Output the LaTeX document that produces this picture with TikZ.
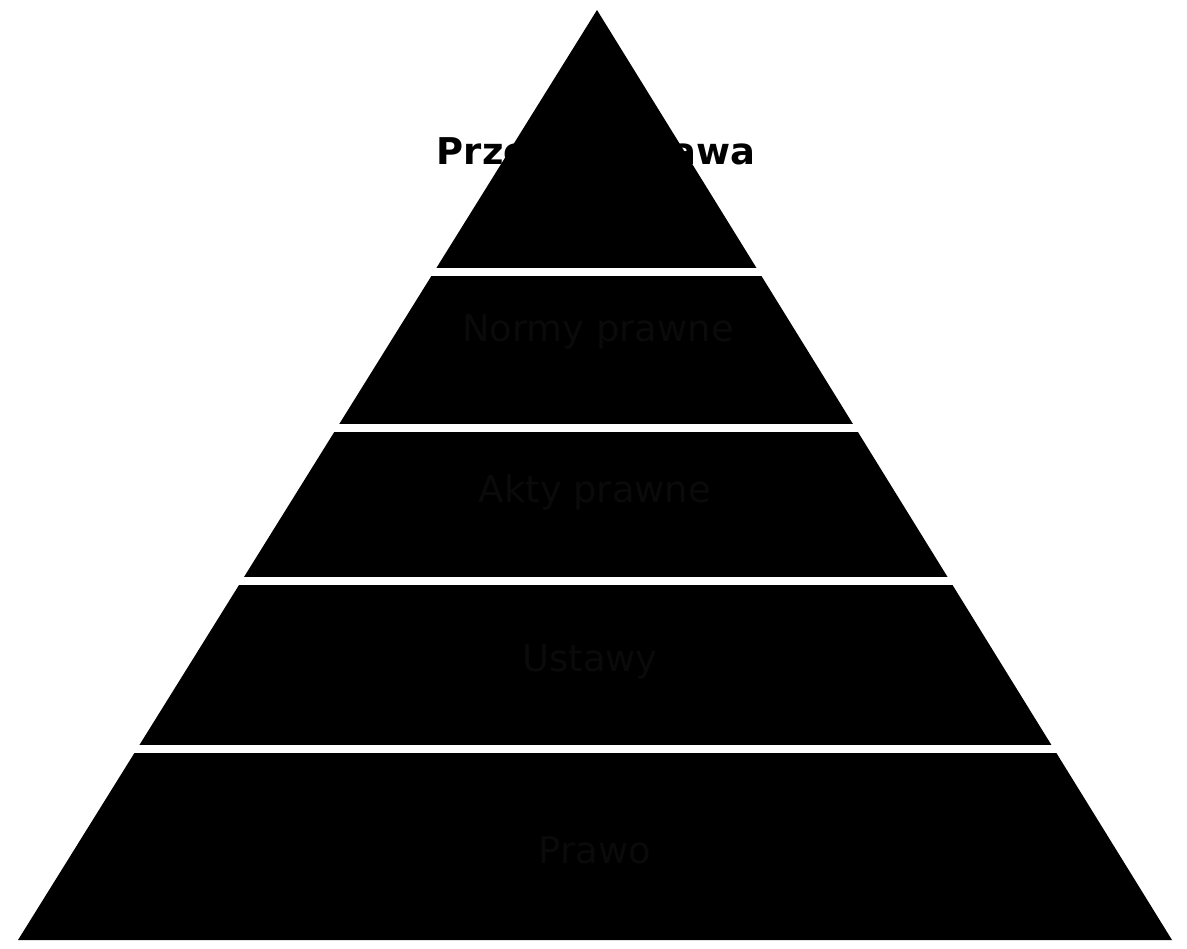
\documentclass[tikz,border=0pt]{standalone}
\usepackage{fontspec}
\setmainfont{DejaVu Sans}
\begin{document}
\begin{tikzpicture}[x=0.02cm,y=-0.02cm,
  gap/.style={fill=white},
  toplabel/.style={text=black,font=\fontsize{21}{25}\selectfont\bfseries,anchor=center},
  bandlabel/.style={text=black!96,font=\fontsize{21}{25}\selectfont,anchor=center}]
\useasboundingbox (0,0) rectangle (1187,948);
\fill[white] (0,0) rectangle (1187,948);
% pyramid
\coordinate (apex) at (597,10);
\coordinate (bl) at (18,940);
\coordinate (br) at (1172,940);
\fill[black] (apex) -- (br) -- (bl) -- cycle;
% white separating stripes
\fill[gap] (0,268) rectangle (1187,276);
\fill[gap] (0,424) rectangle (1187,432);
\fill[gap] (0,577) rectangle (1187,585);
\fill[gap] (0,745) rectangle (1187,753);
% labels
\node[toplabel] (l1) at (596,154) {Przepisy prawa};
\node[bandlabel] (l2) at (598,332) {Normy prawne};
\node[bandlabel] (l3) at (595,492) {Akty prawne};
\node[bandlabel] (l4) at (590,662) {Ustawy};
\node[bandlabel] (l5) at (595,850) {Prawo};
\end{tikzpicture}
\end{document}
